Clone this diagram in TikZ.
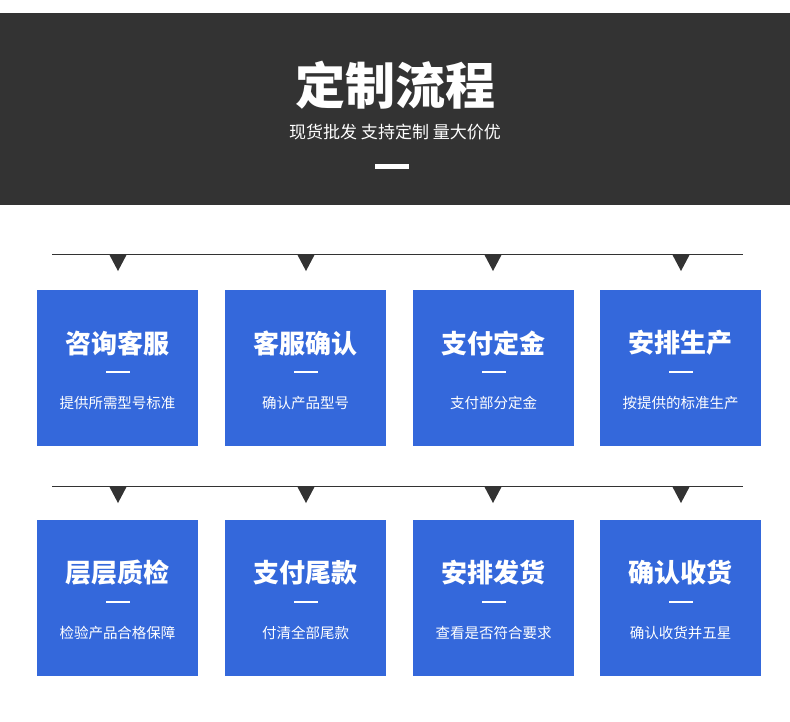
\documentclass[tikz,border=0pt]{standalone}
\usepackage{fontspec}
\setmainfont{Noto Sans CJK SC}
\usetikzlibrary{positioning}
\definecolor{banddark}{HTML}{333333}
\definecolor{boxblue}{HTML}{3468DB}

\begin{document}
\begin{tikzpicture}[x=1pt, y=-1pt,
  stepbox/.style={rectangle, fill=boxblue, minimum width=161pt, minimum height=156pt, inner sep=0pt},
  steptitle/.style={text=white, font=\fontsize{26}{26}\selectfont\bfseries},
  stepnote/.style={text=white, font=\fontsize{14.5}{14.5}\selectfont},
  stepdash/.style={fill=white, minimum width=24pt, minimum height=2.5pt, inner sep=0pt},
  marker/.style={fill=banddark, draw=none}
]
\useasboundingbox (0,0) rectangle (790,721);
\fill[white] (0,0) rectangle (790,721);

% Header band
\fill[banddark] (0,13) rectangle (790,205);
\node[text=white, font=\fontsize{50}{50}\selectfont\bfseries] (title) at (395,85) {定制流程};
\node[text=white, font=\fontsize{17}{17}\selectfont] (subtitle) at (395,132) {现货批发 支持定制 量大价优};
\node[fill=white, minimum width=34pt, minimum height=5pt, inner sep=0pt] (bar) at (392,166) {};

% Rows of steps
\foreach \row/\ly in {1/254, 2/486} {
  \coordinate (l\row a) at (52,\ly);
  \coordinate (l\row b) at (743,\ly);
  \draw[banddark, line width=1pt] (l\row a) -- (l\row b);
  \foreach \cx in {118,306,493,681}
    \fill[marker] (\cx-9,\ly) -- (\cx+9,\ly) -- (\cx,\ly+17) -- cycle;
}

\foreach \n/\cx/\cy/\head/\note in {
  1/117.5/368/咨询客服/提供所需型号标准,
  2/305.5/368/客服确认/确认产品型号,
  3/493.5/368/支付定金/支付部分定金,
  4/680.5/368/安排生产/按提供的标准生产,
  5/117.5/598/层层质检/检验产品合格保障,
  6/305.5/598/支付尾款/付清全部尾款,
  7/493.5/598/安排发货/查看是否符合要求,
  8/680.5/598/确认收货/确认收货并五星} {
  \node[stepbox] (s\n) at (\cx,\cy) {};
  \node[steptitle] (h\n) at (\cx,\cy-25) {\head};
  \node[stepdash] (d\n) at (\cx,\cy+4) {};
  \node[stepnote] (t\n) at (\cx,\cy+35) {\note};
}
\end{tikzpicture}
\end{document}
